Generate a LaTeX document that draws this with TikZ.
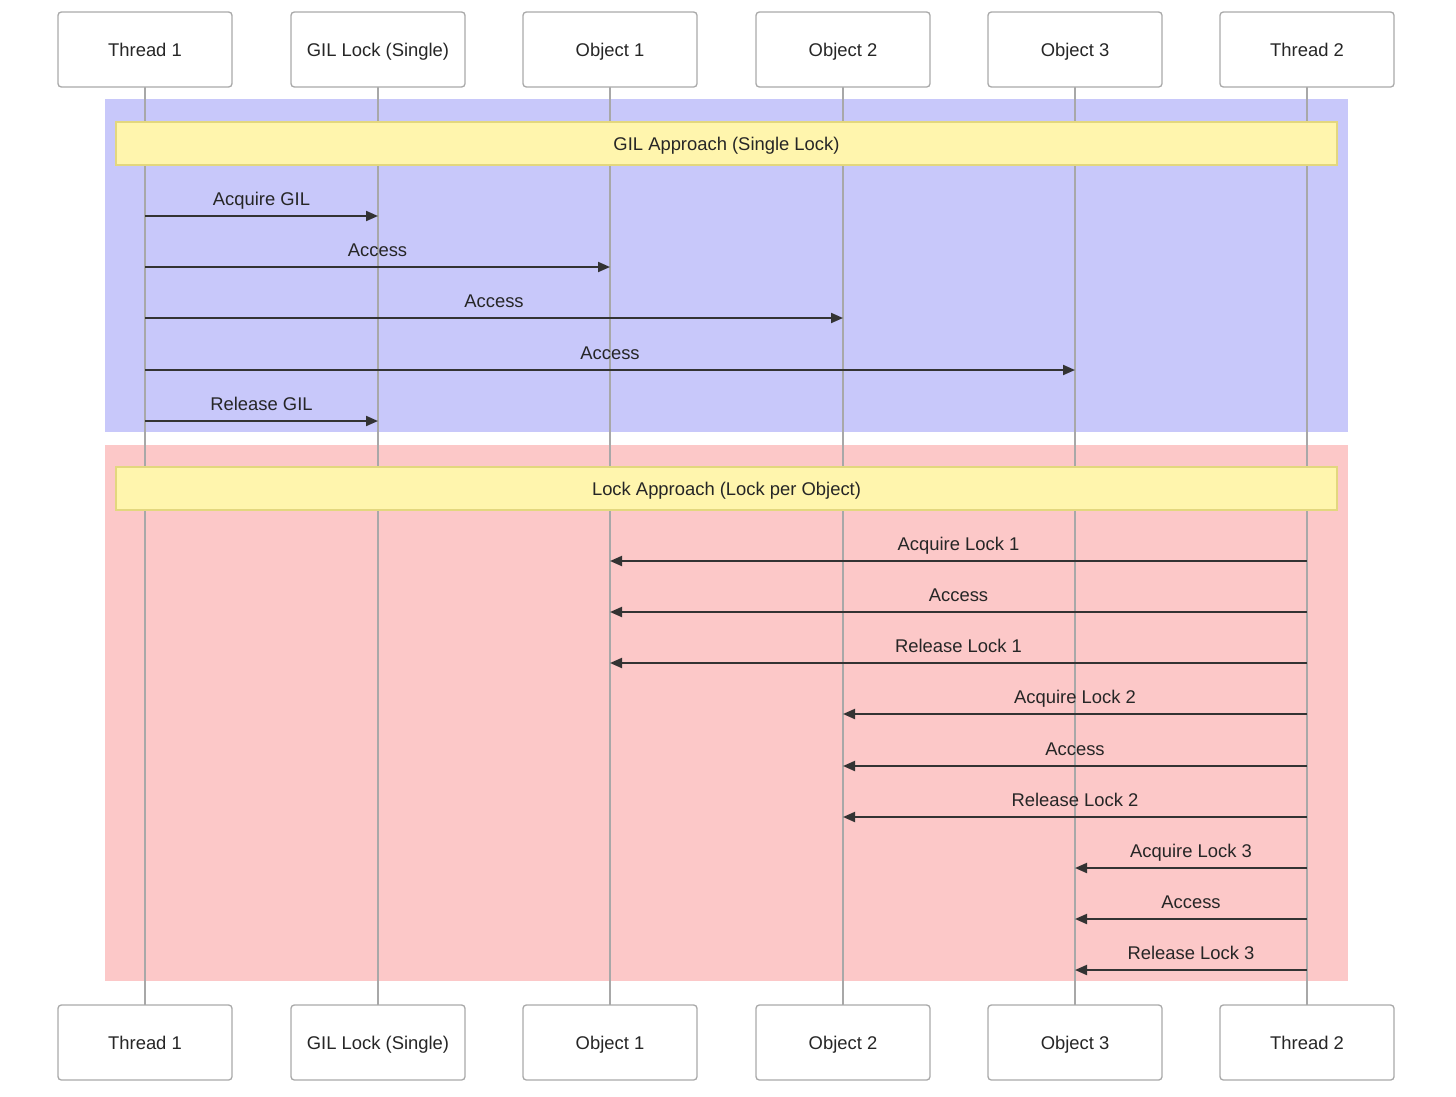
\documentclass[tikz,border=0pt]{standalone}
\usepackage{fontspec}
\setmainfont{Liberation Sans}
\usetikzlibrary{arrows.meta}
\definecolor{boxborder}{HTML}{AAAAAA}
\definecolor{lifeline}{HTML}{A8A8A8}
\definecolor{bluebg}{HTML}{C8C8FA}
\definecolor{redbg}{HTML}{FCC8C8}
\definecolor{notefill}{HTML}{FFF5AD}
\definecolor{noteborder}{HTML}{E3D77E}
\definecolor{msgcol}{HTML}{333333}
\begin{document}
\begin{tikzpicture}[x=0.75pt,y=-0.75pt,
  txt/.style={font=\fontsize{13.8pt}{16pt}\selectfont,text=black!85,text height=9.9pt,text depth=0pt},
  actor/.style={txt,draw=boxborder,line width=1pt,fill=white,rounded corners=2.5pt,minimum width=130.5pt,minimum height=56.25pt,inner sep=0pt},
  life/.style={draw=lifeline,line width=1.5pt},
  note/.style={txt,draw=noteborder,line width=0.8pt,fill=notefill,minimum width=915.75pt,minimum height=32.25pt,inner sep=0pt},
  msg/.style={draw=msgcol,line width=1.5pt,-{Triangle[length=9pt,width=7.5pt]}},
  lbl/.style={txt,inner sep=0pt,above=7.5pt}
]
\useasboundingbox (0,0) rectangle (1456,1096);
% backgrounds
\fill[bluebg] (105,99) rectangle (1348,432);
\fill[redbg] (105,445) rectangle (1348,981);
% lifelines
\foreach \n/\x in {t1/145,gil/378,o1/610,o2/843,o3/1075,t2/1307}{
  \coordinate (\n top) at (\x,87);
  \coordinate (\n bot) at (\x,1005);
  \draw[life] (\n top) -- (\n bot);
}
% actors
\foreach \n/\x/\t in {t1/145/Thread 1,gil/378/GIL Lock (Single),o1/610/Object 1,o2/843/Object 2,o3/1075/Object 3,t2/1307/Thread 2}{
  \node[actor] (\n A) at (\x,49.5) {\t};
  \node[actor] (\n B) at (\x,1042.5) {\t};
}
% notes
\node[note] (n1) at (726.5,143.5) {GIL Approach (Single Lock)};
\node[note] (n2) at (726.5,488.5) {Lock Approach (Lock per Object)};
% message points
\foreach \n/\x in {t1/145,gil/378,o1/610,o2/843,o3/1075,t2/1307}{
  \foreach \y in {216,267,318,370,421,561,612,663,714,766,817,868,919,970}{
    \coordinate (\n-\y) at (\x,\y);
  }
}
% GIL messages
\draw[msg] (t1-216) -- node[lbl] (m1) {Acquire GIL} (gil-216);
\draw[msg] (t1-267) -- node[lbl] (m2) {Access} (o1-267);
\draw[msg] (t1-318) -- node[lbl] (m3) {Access} (o2-318);
\draw[msg] (t1-370) -- node[lbl] (m4) {Access} (o3-370);
\draw[msg] (t1-421) -- node[lbl] (m5) {Release GIL} (gil-421);
% Lock messages
\draw[msg] (t2-561) -- node[lbl] (m6) {Acquire Lock 1} (o1-561);
\draw[msg] (t2-612) -- node[lbl] (m7) {Access} (o1-612);
\draw[msg] (t2-663) -- node[lbl] (m8) {Release Lock 1} (o1-663);
\draw[msg] (t2-714) -- node[lbl] (m9) {Acquire Lock 2} (o2-714);
\draw[msg] (t2-766) -- node[lbl] (m10) {Access} (o2-766);
\draw[msg] (t2-817) -- node[lbl] (m11) {Release Lock 2} (o2-817);
\draw[msg] (t2-868) -- node[lbl] (m12) {Acquire Lock 3} (o3-868);
\draw[msg] (t2-919) -- node[lbl] (m13) {Access} (o3-919);
\draw[msg] (t2-970) -- node[lbl] (m14) {Release Lock 3} (o3-970);
\end{tikzpicture}
\end{document}
